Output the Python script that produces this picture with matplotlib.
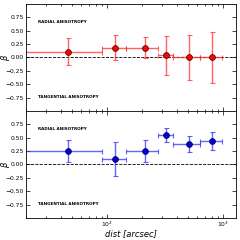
import numpy as np
import matplotlib
matplotlib.use("Agg")
import matplotlib.pyplot as plt

# bin centres [arcsec] and bin edges
dist = np.array([46, 117, 211, 324, 505, 796])
edge_lo = np.array([12, 91, 147, 277, 370, 630])
edge_hi = np.array([91, 147, 277, 370, 630, 970])

# top panel (red)
beta_red = np.array([0.11, 0.185, 0.185, 0.04, 0.0, 0.0])
err_red = np.array([0.25, 0.23, 0.19, 0.37, 0.42, 0.47])

# bottom panel (blue)
beta_blue = np.array([0.255, 0.105, 0.25, 0.555, 0.375, 0.44])
err_blue = np.array([0.21, 0.32, 0.21, 0.13, 0.15, 0.17])

yticks = [-0.75, -0.5, -0.25, 0.0, 0.25, 0.5, 0.75]

fig = plt.figure(figsize=(2.4, 2.4), dpi=100)
ax1 = fig.add_axes([0.108, 0.5375, 0.875, 0.446])
ax2 = fig.add_axes([0.108, 0.0917, 0.875, 0.446], sharex=ax1)

xerr = [dist - edge_lo, edge_hi - dist]

for ax, beta, err, ecol, fcol in [
    (ax1, beta_red, err_red, "#ff3030", "red"),
    (ax2, beta_blue, err_blue, "#3030ff", "#0000dd"),
]:
    ax.errorbar(dist, beta, xerr=xerr, yerr=err, fmt="none", ecolor=ecol,
                elinewidth=1.0, capsize=1.8, capthick=0.8, alpha=0.75, zorder=2)
    ax.plot(dist, beta, "o", ms=4.2, mfc=fcol, mec="#330000" if fcol == "red" else "#000033",
            mew=0.5, zorder=3)
    ax.axhline(0, color="k", ls="--", lw=0.6, zorder=1)
    ax.set_xscale("log")
    ax.set_xlim(20, 1290)
    ax.set_ylim(-1, 1)
    ax.set_yticks(yticks)
    ax.set_yticklabels([f"{t:.2f}".replace("-", "\u2212") for t in yticks])
    ax.tick_params(which="both", direction="in", top=True, right=True,
                   labelsize=4.3, width=0.5, pad=1.5)
    ax.tick_params(which="major", length=3)
    ax.tick_params(which="minor", length=1.5)
    for s in ax.spines.values():
        s.set_linewidth(0.6)
    ax.set_ylabel(r"$\beta$", fontsize=6)
    ax.yaxis.set_label_coords(-0.068, 0.5)
    ax.text(0.057, 0.835, "RADIAL ANISOTROPY", transform=ax.transAxes,
            fontsize=3, fontweight="bold", va="center")
    ax.text(0.057, 0.135, "TANGENTIAL ANISOTROPY", transform=ax.transAxes,
            fontsize=3, fontweight="bold", va="center")

plt.setp(ax1.get_xticklabels(), visible=False)
ax2.tick_params(axis="x", pad=1)
ax2.set_xlabel("dist [arcsec]", fontsize=6, fontstyle="italic", labelpad=0)

fig.savefig("out.png", dpi=100)
